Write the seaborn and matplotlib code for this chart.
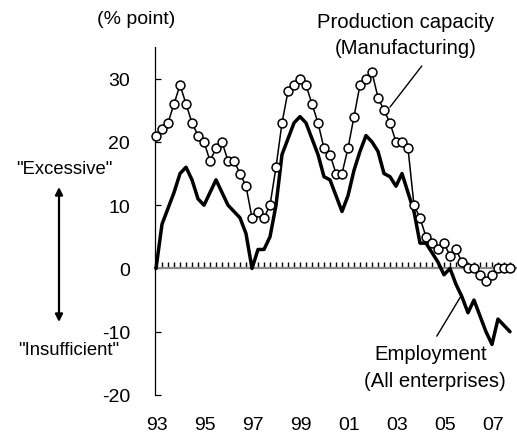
import numpy as np
import pandas as pd
import matplotlib
matplotlib.use("Agg")
import matplotlib.pyplot as plt
import seaborn as sns

# ---- data (quarterly, 1993 Q1 .. 2007 Q4) ----
quarters = list(range(60))
year_labels = ["93", "95", "97", "99", "01", "03", "05", "07"]
year_positions = [0, 8, 16, 24, 32, 40, 48, 56]
production = [21, 22, 23, 26, 29, 26, 23, 21, 20, 17,
              19, 20, 17, 17, 15, 13, 8, 9, 8, 10,
              16, 23, 28, 29, 30, 29, 26, 23, 19, 18,
              15, 15, 19, 24, 29, 30, 31, 27, 25, 23,
              20, 20, 19, 10, 8, 5, 4, 3, 4, 2,
              3, 1, 0, 0, -1, -2, -1, 0, 0, 0]
employment = [0, 7, 9.5, 12, 15, 16, 14, 11, 10, 12,
              14, 12, 10, 9, 8, 5.5, 0, 3, 3, 5,
              10, 18, 20.5, 23, 24, 23, 20.5, 18, 14.5, 14,
              11.5, 9, 11.5, 15.5, 18.5, 21, 20, 18.5, 15, 14.5,
              13, 15, 12, 9, 4, 4, 2.5, 1, -1, 0,
              -2.5, -4.5, -7, -5, -7.5, -10, -12, -8, -9, -10]
y_ticks = [-20, -10, 0, 10, 20, 30]

df = pd.DataFrame({"q": quarters, "production": production, "employment": employment})

sns.set_style("white")
plt.rcParams["font.family"] = ["Liberation Sans", "DejaVu Sans"]
plt.rcParams["axes.unicode_minus"] = False
plt.rcParams["text.color"] = "black"
plt.rcParams["xtick.color"] = "black"
plt.rcParams["ytick.color"] = "black"
plt.rcParams["xtick.labelcolor"] = "black"
plt.rcParams["ytick.labelcolor"] = "black"
FS_TICK = 14
FS_SIDE = 13.3
FS_NOTE = 14.6

W, H = 517, 439
fig = plt.figure(figsize=(W / 100, H / 100), dpi=100)
ax = fig.add_axes([155 / W, 43 / H, 362 / W, 348 / H])


def fp(x, y):
    return (x / W, 1 - y / H)


sns.lineplot(data=df, x="q", y="employment", color="black", lw=2.5,
             estimator=None, sort=False, ax=ax, zorder=3, clip_on=False)
sns.lineplot(data=df, x="q", y="production", color="black", lw=1.1,
             marker="o", markersize=6.4, markerfacecolor="white",
             markeredgecolor="black", markeredgewidth=1.1,
             estimator=None, sort=False, ax=ax, zorder=4, clip_on=False)

ax.set_xlim(-0.17, 60.17)
ax.set_ylim(-20, 35)
ax.set_xlabel("")
ax.set_ylabel("")

for s in ["top", "right"]:
    ax.spines[s].set_visible(False)
ax.spines["left"].set_color("black")
ax.spines["left"].set_linewidth(0.9)
ax.spines["bottom"].set_position(("data", 0))
ax.spines["bottom"].set_color("#8a8a8a")
ax.spines["bottom"].set_linewidth(1.6)
ax.spines["bottom"].set_zorder(1)

ax.set_xticks(quarters[1:])
ax.tick_params(axis="x", which="major", bottom=True, direction="in", length=4.2,
               width=1.0, color="black", labelbottom=False)
ax.set_yticks(y_ticks)
ax.tick_params(axis="y", left=True, direction="in", length=4, width=0.9, pad=18,
               labelsize=FS_TICK, color="black")

sec = ax.secondary_xaxis(0)
sec.set_xticks([p + 0.2 for p in year_positions])
sec.set_xticklabels(year_labels)
sec.tick_params(length=0, pad=15, labelsize=FS_TICK)
sec.spines["bottom"].set_visible(False)

fig.text(*fp(97, 20), "(% point)", ha="left", va="center", fontsize=FS_TICK)
fig.text(*fp(406, 23), "Production capacity", ha="center", va="center", fontsize=FS_NOTE)
fig.text(*fp(406, 48), "(Manufacturing)", ha="center", va="center", fontsize=FS_NOTE)
fig.text(*fp(431, 355), "Employment", ha="center", va="center", fontsize=FS_NOTE)
fig.text(*fp(435, 382), "(All enterprises)", ha="center", va="center", fontsize=FS_NOTE)
fig.text(*fp(64, 170), '"Excessive"', ha="center", va="center", fontsize=FS_SIDE)
fig.text(*fp(69, 351), '"Insufficient"', ha="center", va="center", fontsize=FS_SIDE)

ax.annotate("", xy=fp(59, 188), xytext=fp(59, 323), xycoords="figure fraction",
            textcoords="figure fraction",
            arrowprops=dict(arrowstyle="<|-|>", color="black", lw=1.6,
                            mutation_scale=11, shrinkA=0, shrinkB=0))

ax.annotate("", xy=(39, 25.5), xytext=(44.3, 32.0), annotation_clip=False,
            arrowprops=dict(arrowstyle="-", color="black", lw=1.0, shrinkA=0, shrinkB=0))
ax.annotate("", xy=(51, -4.1), xytext=(46.8, -10.7), annotation_clip=False,
            arrowprops=dict(arrowstyle="-", color="black", lw=1.0, shrinkA=0, shrinkB=0))

fig.savefig("out.png", dpi=100)
